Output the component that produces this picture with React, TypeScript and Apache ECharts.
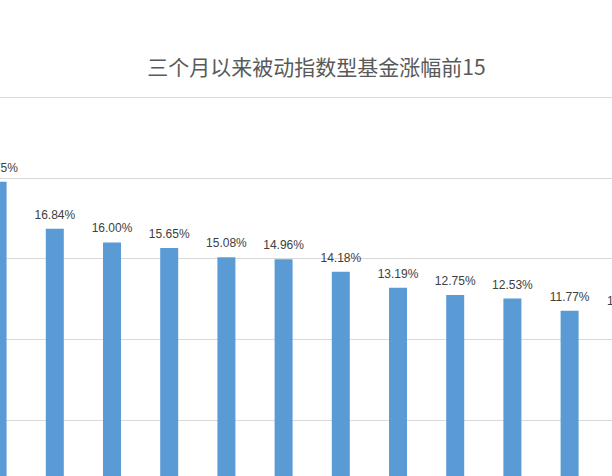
import React, { useEffect, useRef } from 'react';
import * as echarts from 'echarts';

// 原图只截取了中间一段，这里按完整 15 只基金排布，再用外层容器裁切
const titleText = '三个月以来被动指数型基金涨幅前15';
const funds = [
  '基金01', '基金02', '基金03', '基金04', '基金05',
  '基金06', '基金07', '基金08', '基金09', '基金10',
  '基金11', '基金12', '基金13', '基金14', '基金15'
];
// 涨幅(%)，最后几只在截图之外，按递减趋势估计
const gains = [19.75, 16.84, 16.0, 15.65, 15.08, 14.96, 14.18, 13.19, 12.75, 12.53, 11.77, 11.52, 11.2, 10.95, 10.71];
const yTicks = { min: 0, max: 25, interval: 5 };

const App = () => {
  const chartRef = useRef<HTMLDivElement>(null);

  useEffect(() => {
    const chart = echarts.init(chartRef.current, null, { renderer: 'svg' });

    const option = {
      animation: false,
      backgroundColor: '#ffffff',
      title: {
        text: titleText,
        left: 'center',
        top: 50,
        textStyle: {
          fontFamily: '"Noto Sans CJK SC", sans-serif',
          fontSize: 21,
          fontWeight: 'normal',
          color: '#595959'
        }
      },
      grid: {
        left: 269,
        top: 97,
        width: 858,
        height: 404
      },
      xAxis: {
        type: 'category',
        data: funds,
        axisLine: { show: false },
        axisTick: { show: false },
        axisLabel: { show: false }
      },
      yAxis: {
        type: 'value',
        min: yTicks.min,
        max: yTicks.max,
        interval: yTicks.interval,
        axisLabel: { show: false },
        axisLine: { show: false },
        axisTick: { show: false },
        splitLine: {
          lineStyle: { color: '#d9d9d9', width: 1 }
        }
      },
      series: [
        {
          type: 'bar',
          data: gains,
          barWidth: 18,
          itemStyle: { color: '#5b9bd5' },
          label: {
            show: true,
            position: 'top',
            distance: 8,
            fontFamily: '"Liberation Sans", Arial, sans-serif',
            fontSize: 12,
            color: '#404040',
            formatter: (p: any) => p.value.toFixed(2) + '%'
          }
        }
      ]
    };

    chart.setOption(option);
    return () => {
      chart.dispose();
    };
  }, []);

  return (
    <div style={{ position: 'fixed', left: 0, top: 0, width: 612, height: 476, overflow: 'hidden', background: '#fff' }}>
      <div ref={chartRef} style={{ position: 'absolute', left: -300, top: 0, width: 1233, height: 560 }}></div>
    </div>
  );
};

export default App;
